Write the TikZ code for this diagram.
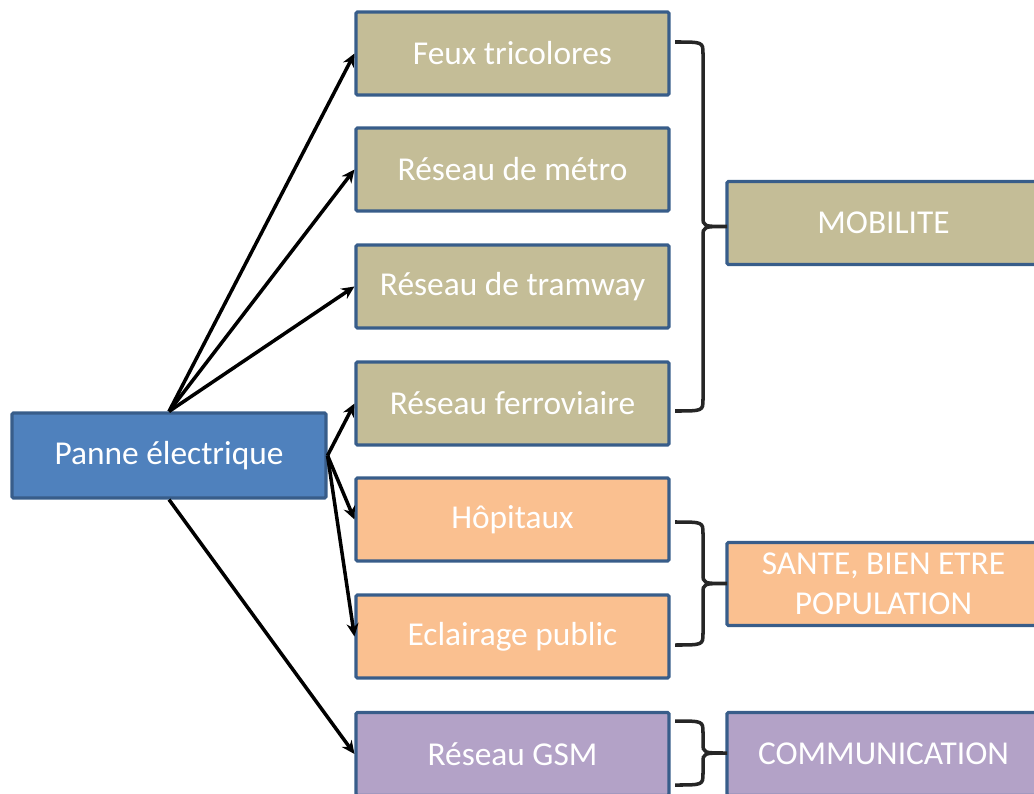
\documentclass[tikz,border=0pt]{standalone}
\usepackage{fontspec}
\setmainfont{Carlito}
\usetikzlibrary{arrows.meta}
\definecolor{boxline}{HTML}{385D8A}
\definecolor{causefill}{HTML}{4F81BD}
\definecolor{mobfill}{HTML}{C4BD97}
\definecolor{santefill}{HTML}{FAC090}
\definecolor{comfill}{HTML}{B3A2C7}
\tikzset{
  % --- boxes ----------------------------------------------------------------
  box/.style={rectangle,draw=boxline,line width=1.8pt,rounded corners=0.8pt,
              minimum width=6.26cm,minimum height=1.66cm,inner sep=2pt,
              text=white,font=\fontsize{19}{22.6}\selectfont,align=center},
  cause/.style={box,fill=causefill,minimum width=6.28cm,minimum height=1.70cm},
  mob/.style={box,fill=mobfill},     % mobilite
  sante/.style={box,fill=santefill}, % sante, bien etre
  com/.style={box,fill=comfill},     % communication
  % --- connectors -----------------------------------------------------------
  link/.style={-{Stealth[length=2.6mm,width=2.4mm]},line width=2pt},
  accol/.style={draw=black!85,line width=2pt},
}
% right curly brace between y=#1 and y=#2 (picture units)
\newcommand{\accolade}[2]{%
  \draw[accol] (675,#1) .. controls (703,#1) .. (703,{#1+12})
    -- (703,{(#1+#2)/2-10}) .. controls (703,{(#1+#2)/2}) .. (727,{(#1+#2)/2})
    .. controls (703,{(#1+#2)/2}) .. (703,{(#1+#2)/2+10})
    -- (703,{#2-12}) .. controls (703,#2) .. (675,#2);}

\begin{document}
\begin{tikzpicture}[x=0.02cm, y=-0.02cm]
  \useasboundingbox (0,0) rectangle (1034,794);

  \node[cause] (panne) at (169,455.5) {Panne électrique};

  \node[mob]   (feux)  at (512.5,53.5)  {Feux tricolores};
  \node[mob]   (metro) at (512.5,169.5) {Réseau de métro};
  \node[mob]   (tram)  at (512.5,286.5) {Réseau de tramway};
  \node[mob]   (ferro) at (512.5,403.5) {Réseau ferroviaire};
  \node[sante] (hopit) at (512.5,519.5) {Hôpitaux};
  \node[sante] (eclai) at (512.5,636.5) {Eclairage public};
  \node[com]   (gsm)   at (512.5,754)   {Réseau GSM};

  \node[mob]   (mobil) at (883.5,223)   {MOBILITE};
  \node[sante] (sante) at (883.5,584)   {SANTE, BIEN ETRE\\POPULATION};
  \node[com]   (commu) at (883.5,754)   {COMMUNICATION};

  \draw[link] (panne.north) -- (feux.west);
  \draw[link] (panne.north) -- (metro.west);
  \draw[link] (panne.north) -- (tram.west);
  \draw[link] (panne.east)  -- (ferro.west);
  \draw[link] (panne.east)  -- (hopit.west);
  \draw[link] (panne.east)  -- (eclai.west);
  \draw[link] (panne.south) -- (gsm.west);

  \accolade{42}{411}
  \accolade{522}{645}
  \accolade{721}{785}
\end{tikzpicture}
\end{document}
